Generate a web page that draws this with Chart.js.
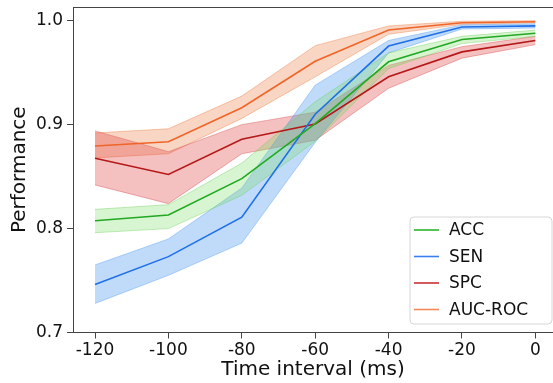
<!DOCTYPE html>
<html>
<head>
<meta charset="utf-8">
<script src="https://cdn.jsdelivr.net/npm/chart.js@4.4.1/dist/chart.umd.min.js"></script>
<style>
  html, body { margin: 0; padding: 0; background: #fff; }
  #wrap { width: 553px; height: 383px; }
</style>
</head>
<body>
<div id="wrap"><canvas id="myChart" width="553" height="383"></canvas></div>
<script>
var times = [-120, -100, -80, -60, -40, -20, 0];
var yTicks = [0.7, 0.8, 0.9, 1.0];

var accMean = [0.8075, 0.813, 0.848, 0.901, 0.9605, 0.982, 0.988];
var accHigh = [0.8185, 0.823, 0.863, 0.922, 0.969, 0.985, 0.991];
var accLow  = [0.796, 0.800, 0.832, 0.884, 0.954, 0.978, 0.985];

var senMean = [0.7463, 0.773, 0.811, 0.910, 0.9756, 0.994, 0.995];
var senHigh = [0.765, 0.790, 0.839, 0.938, 0.981, 0.996, 0.997];
var senLow  = [0.728, 0.755, 0.786, 0.883, 0.969, 0.992, 0.993];

var spcMean = [0.8676, 0.852, 0.886, 0.9006, 0.946, 0.970, 0.981];
var spcHigh = [0.894, 0.874, 0.900, 0.912, 0.957, 0.975, 0.985];
var spcLow  = [0.842, 0.824, 0.872, 0.885, 0.935, 0.964, 0.977];

var aucMean = [0.8794, 0.8836, 0.9163, 0.961, 0.991, 0.998, 0.999];
var aucHigh = [0.892, 0.896, 0.9275, 0.976, 0.995, 0.9995, 1.0];
var aucLow  = [0.868, 0.872, 0.906, 0.946, 0.987, 0.9965, 0.998];

var names = ["ACC", "SEN", "SPC", "AUC-ROC"];
var lineColors = ["#22a822", "#1f6fe8", "#b41818", "#f06428"];
var legendColors = ["#2cb42c", "#3a7ff0", "#c83030", "#f08a5a"];
var bandColors = ["rgba(110,220,90,0.28)", "rgba(70,150,240,0.34)", "rgba(225,70,70,0.34)", "rgba(235,120,60,0.30)"];
var bandEdges = ["rgba(90,200,70,0.35)", "rgba(70,150,240,0.4)", "rgba(210,70,70,0.4)", "rgba(235,120,60,0.4)"];

function pts(arr) {
  return times.map(function (t, i) { return { x: t, y: arr[i] }; });
}

var means = [accMean, senMean, spcMean, aucMean];
var highs = [accHigh, senHigh, spcHigh, aucHigh];
var lows = [accLow, senLow, spcLow, aucLow];

var datasets = [];
for (var k = 0; k < 4; k++) {
  datasets.push({
    label: names[k],
    data: pts(means[k]),
    borderColor: lineColors[k],
    borderWidth: 1.6,
    pointRadius: 0,
    fill: false,
    order: 0,
    isLine: true,
    legendColor: legendColors[k]
  });
}
for (var k = 0; k < 4; k++) {
  datasets.push({
    label: names[k] + " high",
    data: pts(highs[k]),
    borderColor: bandEdges[k],
    borderWidth: 1,
    backgroundColor: bandColors[k],
    pointRadius: 0,
    fill: "+1",
    order: 1
  });
  datasets.push({
    label: names[k] + " low",
    data: pts(lows[k]),
    borderColor: bandEdges[k],
    borderWidth: 1,
    pointRadius: 0,
    fill: false,
    order: 1
  });
}

// top spine + legend inside the plot, lower right
var extras = {
  id: "extras",
  afterDraw: function (chart) {
    var ctx = chart.ctx, a = chart.chartArea;
    ctx.save();
    ctx.strokeStyle = "#444";
    ctx.lineWidth = 1;
    ctx.beginPath();
    ctx.moveTo(a.left, a.top + 0.5);
    ctx.lineTo(a.right, a.top + 0.5);
    ctx.stroke();

    var bx = 410, by = 217, bw = 142, bh = 107, r = 4;
    ctx.fillStyle = "rgba(255,255,255,0.85)";
    ctx.strokeStyle = "#d6d6d6";
    ctx.beginPath();
    ctx.moveTo(bx + r, by);
    ctx.arcTo(bx + bw, by, bx + bw, by + bh, r);
    ctx.arcTo(bx + bw, by + bh, bx, by + bh, r);
    ctx.arcTo(bx, by + bh, bx, by, r);
    ctx.arcTo(bx, by, bx + bw, by, r);
    ctx.closePath();
    ctx.fill();
    ctx.stroke();

    ctx.font = "17px 'DejaVu Sans'";
    ctx.textBaseline = "middle";
    ctx.textAlign = "left";
    var rowY = by + 13;
    chart.data.datasets.forEach(function (ds) {
      if (!ds.isLine) return;
      ctx.strokeStyle = ds.legendColor;
      ctx.lineWidth = 1.6;
      ctx.beginPath();
      ctx.moveTo(414, rowY);
      ctx.lineTo(439, rowY);
      ctx.stroke();
      ctx.fillStyle = "#111";
      ctx.fillText(ds.label, 449, rowY + 1);
      rowY += 26.5;
    });
    ctx.restore();
  }
};

new Chart("myChart", {
  type: "line",
  data: { datasets: datasets },
  options: {
    responsive: false,
    animation: false,
    layout: { padding: { top: 7, left: 0, right: 0, bottom: 0 } },
    plugins: {
      legend: { display: false },
      tooltip: { enabled: false }
    },
    scales: {
      x: {
        type: "linear",
        min: -126,
        max: 4.8,
        afterBuildTicks: function (s) { s.ticks = times.map(function (v) { return { value: v }; }); },
        afterFit: function (s) { s.height = 50.5; s.paddingLeft = 0; s.paddingRight = 0; },
        ticks: {
          color: "#111",
          padding: 2,
          maxRotation: 0,
          font: { family: "DejaVu Sans", size: 17 },
          callback: function (v) { return String(v); }
        },
        grid: { drawOnChartArea: false, drawTicks: true, tickLength: 6, tickColor: "#444" },
        border: { color: "#444", width: 1 },
        title: {
          display: true,
          text: "Time interval (ms)",
          color: "#111",
          font: { family: "DejaVu Sans", size: 20 },
          padding: { top: 0, bottom: 1 }
        }
      },
      y: {
        min: 0.7,
        max: 1.0132,
        afterBuildTicks: function (s) { s.ticks = yTicks.map(function (v) { return { value: v }; }); },
        afterFit: function (s) { s.width = 73; s.paddingTop = 0; s.paddingBottom = 0; },
        ticks: {
          color: "#111",
          padding: 4,
          font: { family: "DejaVu Sans", size: 17 },
          callback: function (v) { return v.toFixed(1); }
        },
        grid: { drawOnChartArea: false, drawTicks: true, tickLength: 6, tickColor: "#444" },
        border: { color: "#444", width: 1 },
        title: {
          display: true,
          text: "Performance",
          color: "#111",
          font: { family: "DejaVu Sans", size: 20 },
          padding: { top: 8, bottom: 0 }
        }
      }
    }
  },
  plugins: [extras]
});
</script>
</body>
</html>
